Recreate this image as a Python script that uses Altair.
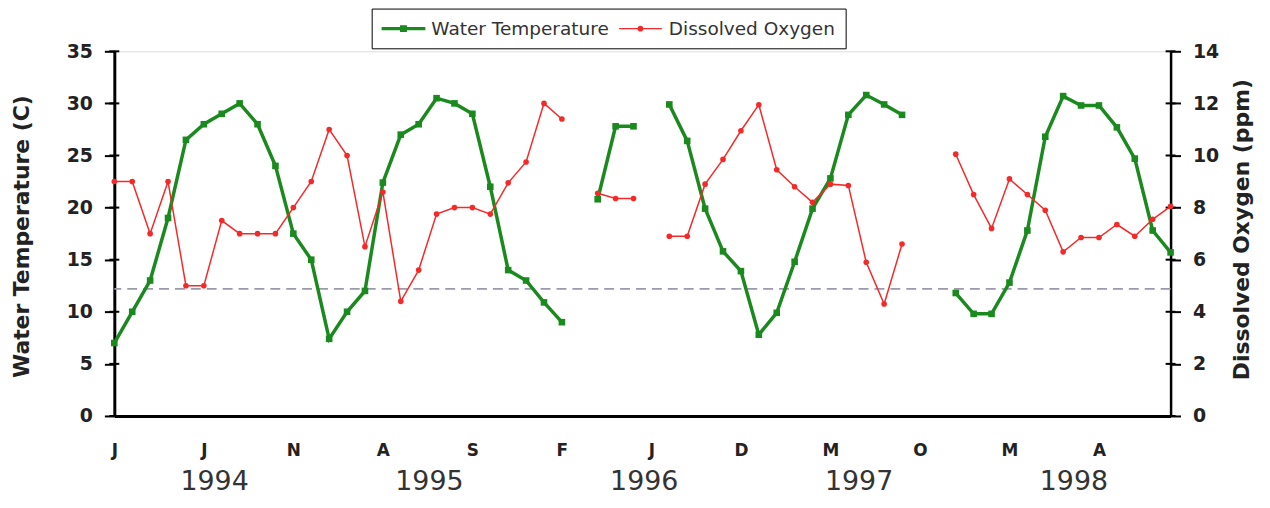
import altair as alt
import pandas as pd

# ---------------- data ----------------
months = list(range(60))  # Jan 1994 .. Dec 1998 (monthly)
temp = [7.0, 10.0, 13.0, 19.0, 26.5, 28.0, 29.0, 30.0, 28.0, 24.0, 17.5, 15.0,
        7.4, 10.0, 12.0, 22.4, 27.0, 28.0, 30.5, 30.0, 29.0, 22.0, 14.0, 13.0,
        10.9, 9.0, None, 20.8, 27.8, 27.8, None, 29.9, 26.4, 19.9, 15.8, 13.9,
        7.8, 9.9, 14.8, 19.9, 22.8, 28.9, 30.8, 29.9, 28.9, None, None, 11.8,
        9.8, 9.8, 12.8, 17.8, 26.8, 30.7, 29.8, 29.8, 27.7, 24.7, 17.8, 15.7]
oxygen = [9.0, 9.0, 7.0, 9.0, 5.0, 5.0, 7.5, 7.0, 7.0, 7.0, 8.0, 9.0,
          11.0, 10.0, 6.5, 8.6, 4.4, 5.6, 7.75, 8.0, 8.0, 7.75, 8.95, 9.75,
          12.0, 11.4, None, 8.55, 8.35, 8.35, None, 6.9, 6.9, 8.9, 9.85, 10.95,
          11.95, 9.45, 8.8, 8.2, 8.9, 8.85, 5.9, 4.3, 6.6, None, None, 10.05,
          8.5, 7.2, 9.1, 8.5, 7.9, 6.3, 6.85, 6.85, 7.35, 6.9, 7.55, 8.05]
threshold_temp = [12.2]

month_letters = ["J", "F", "M", "A", "M", "J", "J", "A", "S", "O", "N", "D"]
tick_months = [0, 5, 10, 15, 20, 25, 30, 35, 40, 45, 50, 55]
year_labels = ["1994", "1995", "1996", "1997", "1998"]
year_pos = [5.6, 17.6, 29.6, 41.6, 53.6]
temp_ticks = [0, 5, 10, 15, 20, 25, 30, 35]
do_ticks = [0, 2, 4, 6, 8, 10, 12, 14]
first_month, last_month = 0, 59

SERIES = ["Water Temperature", "Dissolved Oxygen"]
GREEN = "#1a8a1e"
RED = "#f42a2a"
FONT = "DejaVu Sans"


def with_segments(values, name, series):
    seg, rows = 0, []
    for m, v in zip(months, values):
        if v is None:
            seg += 1
            continue
        rows.append({"month": m, name: v, "seg": seg, "series": series})
    return pd.DataFrame(rows)


df_t = with_segments(temp, "temp", SERIES[0])
df_o = with_segments(oxygen, "DO", SERIES[1])
df_thr = pd.DataFrame({"temp": threshold_temp})
df_years = pd.DataFrame({"month": year_pos, "year": year_labels})
df_legend = pd.DataFrame({"month": [0, 0], "temp": [0, 0], "series": SERIES})
df_tt = pd.DataFrame({"temp": temp_ticks, "month": [first_month] * len(temp_ticks)})
df_dt = pd.DataFrame({"DO": do_ticks, "month": [last_month] * len(do_ticks)})

# ---------------- encodings ----------------
label_expr = "[" + ",".join("'%s'" % c for c in month_letters) + "][datum.value % 12]"
X = alt.X("month:Q",
          scale=alt.Scale(domain=[first_month, last_month], nice=False, zero=False),
          axis=alt.Axis(values=tick_months, labelExpr=label_expr, title=None,
                        ticks=False, tickSize=0, labelPadding=27, labelAngle=0,
                        labelFont=FONT, labelFontWeight="bold", labelFontSize=17,
                        labelColor="#222", labelFlush=False, grid=False,
                        domainColor="black", domainWidth=3))

temp_axis = alt.Axis(values=temp_ticks, title="Water Temperature (C)", grid=False,
                     titleFont=FONT, titleFontSize=22, titleFontWeight="bold",
                     titleColor="#222", titleAngle=270, titleX=-93, titleY=186,
                     titleAlign="center", titleBaseline="middle",
                     labelFont=FONT, labelFontWeight="bold", labelFontSize=19,
                     labelColor="#222", labelPadding=12, labelFlush=False,
                     tickSize=10, tickWidth=2, tickColor="black",
                     domainColor="black", domainWidth=3)
Y_T = alt.Y("temp:Q", scale=alt.Scale(domain=[0, 35], nice=False), axis=temp_axis)

do_axis = alt.Axis(orient="right", values=do_ticks, title="Dissolved Oxygen (ppm)",
                   grid=False, titleFont=FONT, titleFontSize=22, titleFontWeight="bold",
                   titleColor="#222", titleAngle=270, titleX=71, titleY=179,
                   titleAlign="center", titleBaseline="middle",
                   labelFont=FONT, labelFontWeight="bold", labelFontSize=19,
                   labelColor="#222", labelPadding=12, labelFlush=False,
                   tickSize=10, tickWidth=2, tickColor="black",
                   domainColor="black", domainWidth=2.5)
Y_O = alt.Y("DO:Q", scale=alt.Scale(domain=[0, 14], nice=False), axis=do_axis)

# legend symbols: line segment + marker, as filled custom paths
PATH_T = ("M-1,-0.17L3.4,-0.17L3.4,0.17L-1,0.17Z"
          "M0.85,-0.35L1.55,-0.35L1.55,0.35L0.85,0.35Z")
PATH_O = ("M-1,-0.07L3.3,-0.07L3.3,0.07L-1,0.07Z"
          "M1.45,0A0.3,0.3,0,1,1,0.85,0A0.3,0.3,0,1,1,1.45,0Z")

legend = alt.Legend(
    title=None, orient="none", legendX=259, legendY=-43, direction="horizontal",
    symbolSize=400, symbolStrokeWidth=0, symbolOpacity=1,
    labelFont=FONT, labelFontSize=18.6, labelColor="#333", labelOffset=30,
    labelLimit=400, columnPadding=10, padding=10,
    strokeColor="black", fillColor="white")

legend_layer = alt.Chart(df_legend).mark_point(filled=True, opacity=0, size=400).encode(
    x=X, y=Y_T,
    color=alt.Color("series:N", scale=alt.Scale(domain=SERIES, range=[GREEN, RED]),
                    legend=legend),
    shape=alt.Shape("series:N", scale=alt.Scale(domain=SERIES, range=[PATH_T, PATH_O]),
                    legend=legend),
)

# ---------------- layers ----------------
# inner half of the cross-shaped axis ticks
t_inner = alt.Chart(df_tt).mark_tick(orient="horizontal", size=10, thickness=2,
                                     color="black", opacity=1).encode(x=X, y=Y_T)
o_inner = alt.Chart(df_dt).mark_tick(orient="horizontal", size=10, thickness=2,
                                     color="black", opacity=1).encode(x=X, y=Y_O)

thr_rule = alt.Chart(df_thr).mark_rule(color="#9a9aac", strokeWidth=1.6,
                                       strokeDash=[10, 6]).encode(y=Y_T)
t_line = alt.Chart(df_t).mark_line(strokeWidth=3.5, color=GREEN).encode(
    x=X, y=Y_T, detail="seg:N")
t_pts = alt.Chart(df_t).mark_point(shape="square", filled=True, size=44,
                                   opacity=1, color=GREEN).encode(x=X, y=Y_T)
years = alt.Chart(df_years).mark_text(font=FONT, fontSize=27, color="#333",
                                      align="center", baseline="alphabetic").encode(
    x=X, y=alt.value(442), text="year:N")

o_line = alt.Chart(df_o).mark_line(strokeWidth=1.5, color=RED).encode(
    x=X, y=Y_O, detail="seg:N")
o_pts = alt.Chart(df_o).mark_point(shape="circle", filled=True, size=32,
                                   opacity=1, color=RED).encode(x=X, y=Y_O)

left = alt.layer(t_inner, thr_rule, t_line, t_pts, years, legend_layer)
right = alt.layer(o_inner, o_line, o_pts)

chart = alt.layer(left, right).resolve_scale(y="independent").properties(
    width=1063, height=367,
    autosize=alt.AutoSizeParams(type="none"),
    padding={"left": 107, "top": 42, "right": 92, "bottom": 83},
).configure_view(stroke=None).configure(background="white")

chart.save("out.html", embed_options={"renderer": "svg", "actions": False})
